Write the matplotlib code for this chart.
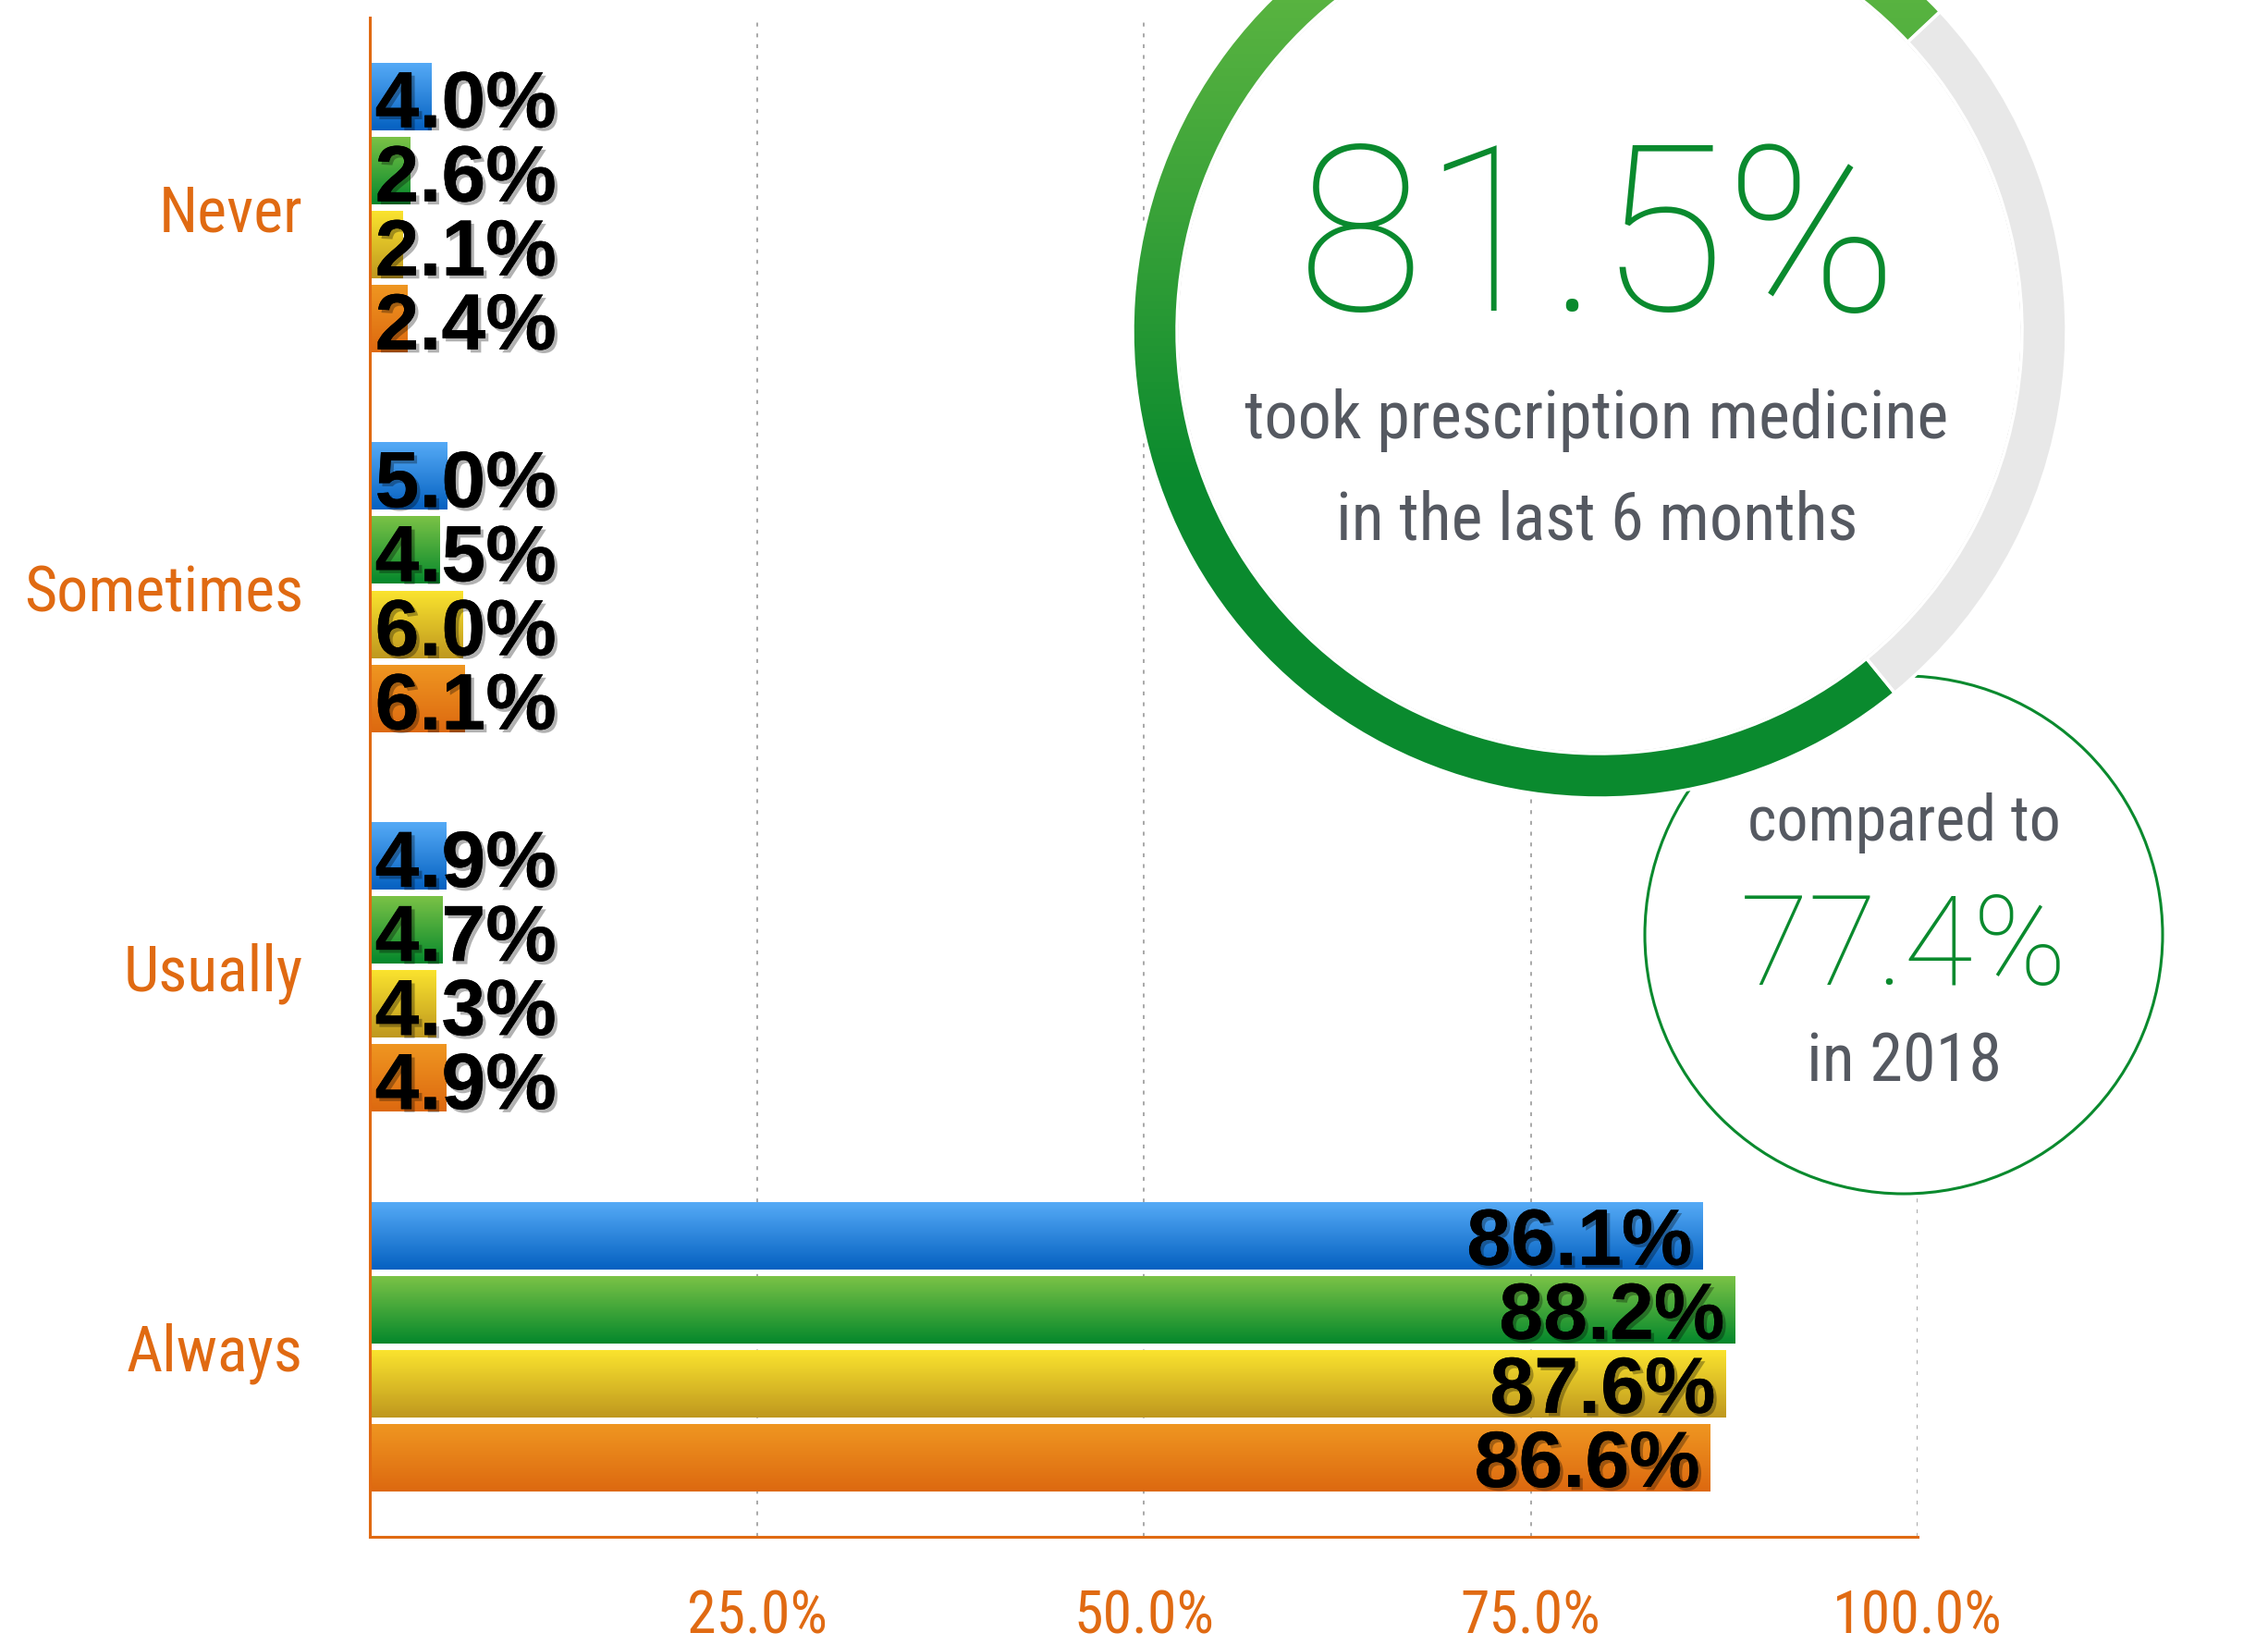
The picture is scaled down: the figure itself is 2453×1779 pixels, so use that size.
import numpy as np
import matplotlib
matplotlib.use("Agg")
import matplotlib.pyplot as plt
import matplotlib.patheffects as pe
from matplotlib import font_manager as fm
from matplotlib.patches import Wedge, Circle
from matplotlib.colors import LinearSegmentedColormap

# data
categories = ["Never", "Sometimes", "Usually", "Always"]
blue_vals = [4.0, 5.0, 4.9, 86.1]
green_vals = [2.6, 4.5, 4.7, 88.2]
yellow_vals = [2.1, 6.0, 4.3, 87.6]
orange_vals = [2.4, 6.1, 4.9, 86.6]
xticks = [25, 50, 75, 100]
xtick_labels = ["25.0%", "50.0%", "75.0%", "100.0%"]

big_value = "81.5%"
big_caption = ["took prescription medicine", "in the last 6 months"]
old_value = "77.4%"
old_caption = ["compared to", "in 2018"]
ring_shares = [73.9, 26.1]   # green / grey share of the ring as drawn

ORANGE = "#E06A12"
DKGREEN = "#0A8A2E"
GREYTXT = "#555961"
THIN = ["Roboto", "DejaVu Sans"]

grads = [
    ("#55AAF6", "#0561C1"),
    ("#7AC246", "#05882C"),
    ("#FAE32E", "#BF981F"),
    ("#EF9621", "#DD6910"),
]
series = [blue_vals, green_vals, yellow_vals, orange_vals]


def find_condensed():
    # look for a narrow sans on this machine, the original uses a condensed face
    prefs = ["Roboto Condensed", "Open Sans Condensed", "Liberation Sans Narrow",
             "Noto Sans", "Open Sans", "DejaVu Sans"]
    wide = ("condensed", "semi-condensed", "extra-condensed", "ultra-condensed")
    for fam in prefs:
        hits = [f for f in fm.fontManager.ttflist
                if f.name == fam and f.style == "normal"
                and (str(f.stretch) in wide or fam.endswith(("Condensed", "Narrow")))]
        if hits:
            hits.sort(key=lambda f: abs((f.weight if isinstance(f.weight, int) else 400) - 400))
            return fm.FontProperties(fname=hits[0].fname), 1.0
    return fm.FontProperties(family="Roboto"), 0.9


COND, cscale = find_condensed()


def cond(size):
    fp = COND.copy()
    fp.set_size(size * cscale)
    return fp


W, H = 2453, 1779
fig = plt.figure(figsize=(W / 100, H / 100), dpi=100)
ax = fig.add_axes([400 / W, 117 / H, 1674 / W, 1643 / H])

pitch = 0.195
bh = 0.177
y = np.arange(len(categories))
shadow = [pe.withSimplePatchShadow(offset=(2.5, -2.5), shadow_rgbFace="k", alpha=0.3), pe.Normal()]

for i, vals in enumerate(series):
    off = (i - 1.5) * pitch
    bars = ax.barh(y + off, vals, height=bh, color=grads[i][1], zorder=2)
    cmap = LinearSegmentedColormap.from_list("g%d" % i, [grads[i][0], grads[i][1]])
    for b, v in zip(bars, vals):
        x0, y0, w, h = b.get_x(), b.get_y(), b.get_width(), b.get_height()
        ax.imshow(np.linspace(0, 1, 64).reshape(-1, 1), cmap=cmap, aspect="auto",
                  extent=[x0, x0 + w, y0 + h, y0], origin="upper", zorder=2.5)
        yc = y0 + h / 2
        if v > 50:
            ax.annotate(f"{v:.1f}%", xy=(x0 + w, yc), xytext=(-8, -22.5), textcoords="offset points",
                        ha="right", va="baseline", fontsize=62, fontweight="bold",
                        family="Liberation Sans", color="black", zorder=5, path_effects=shadow)
        else:
            ax.annotate(f"{v:.1f}%", xy=(0, yc), xytext=(4, -24), textcoords="offset points",
                        ha="left", va="baseline", fontsize=62, fontweight="bold",
                        family="Liberation Sans", color="black", zorder=5, path_effects=shadow)

ax.set_xlim(0, 100)
ax.set_ylim(3.5, -0.5)
ax.set_xticks(xticks)
ax.set_xticklabels(xtick_labels, color=ORANGE)
ax.set_yticks(y)
ax.set_yticklabels(categories, color=ORANGE)
for lbl in ax.get_xticklabels():
    lbl.set_fontproperties(cond(46))
for lbl in ax.get_yticklabels():
    lbl.set_fontproperties(cond(49))
ax.tick_params(axis="x", length=0, pad=40)
ax.tick_params(axis="y", length=0, pad=52)
for s in ["top", "right"]:
    ax.spines[s].set_visible(False)
for s in ["left", "bottom"]:
    ax.spines[s].set_color(ORANGE)
    ax.spines[s].set_linewidth(2.2)
ax.grid(axis="x", color="#9A9A9A", lw=1.2, ls=(0, (2.5, 4.5)), zorder=0)
ax.set_axisbelow(True)

# overlay in pixel coordinates for the two circles
ov = fig.add_axes([0, 0, 1, 1], zorder=3)
ov.patch.set_alpha(0)
ov.axis("off")

# small circle, 2018
cx2, cy2, r2 = 2059, 1011, 280
ov.add_patch(Circle((cx2, cy2), r2, facecolor="white", edgecolor=DKGREEN, lw=2.2, zorder=1))

# big ring
cx, cy, R, ring_w = 1730, 358, 505, 48
ov.add_patch(Circle((cx, cy), R - ring_w, facecolor="white", edgecolor="#A6A6A6", lw=2, zorder=2))
start = 140.8 - 90   # green starts at lower right, runs clockwise on screen
t1 = start
ring_colors = [DKGREEN, "#E8E8E8"]
ring_patches = []
for share, col in zip(ring_shares, ring_colors):
    t2 = t1 + share * 3.6
    wdg = Wedge((cx, cy), R, t1, t2, width=ring_w, facecolor=col, edgecolor="none", zorder=3)
    ov.add_patch(wdg)
    ring_patches.append(wdg)
    t1 = t2
gcmap = LinearSegmentedColormap.from_list("ring", ["#6CBE45", "#3FA53A", DKGREEN, DKGREEN])
img = ov.imshow(np.linspace(0, 1, 128).reshape(-1, 1), cmap=gcmap, aspect="auto",
                extent=[cx - R, cx + R, cy + R, cy - R], origin="upper", zorder=3.5)
img.set_clip_path(ring_patches[0])
t1 = start
for share in ring_shares:
    t2 = t1 + share * 3.6
    ov.add_patch(Wedge((cx, cy), R, t1, t2, width=ring_w, facecolor="none",
                       edgecolor="white", lw=2.5, zorder=4))
    t1 = t2

ov.text(cx - 2, 336, big_value, ha="center", va="baseline", fontsize=180, fontweight="light",
        family=THIN, color=DKGREEN, zorder=6)
ov.text(cx - 3, 474, big_caption[0], ha="center", va="baseline", color=GREYTXT,
        fontproperties=cond(52), zorder=6)
ov.text(cx - 3, 583, big_caption[1], ha="center", va="baseline", color=GREYTXT,
        fontproperties=cond(52), zorder=6)
ov.text(cx2, 909, old_caption[0], ha="center", va="baseline", color=GREYTXT,
        fontproperties=cond(49), zorder=6)
ov.text(cx2, 1065, old_value, ha="center", va="baseline", fontsize=98, fontweight="light",
        family=THIN, color=DKGREEN, zorder=6)
ov.text(cx2, 1169, old_caption[1], ha="center", va="baseline", color=GREYTXT,
        fontproperties=cond(52), zorder=6)

ov.set_xlim(0, W)
ov.set_ylim(H, 0)

fig.savefig("out.png", dpi=100, facecolor="white")
